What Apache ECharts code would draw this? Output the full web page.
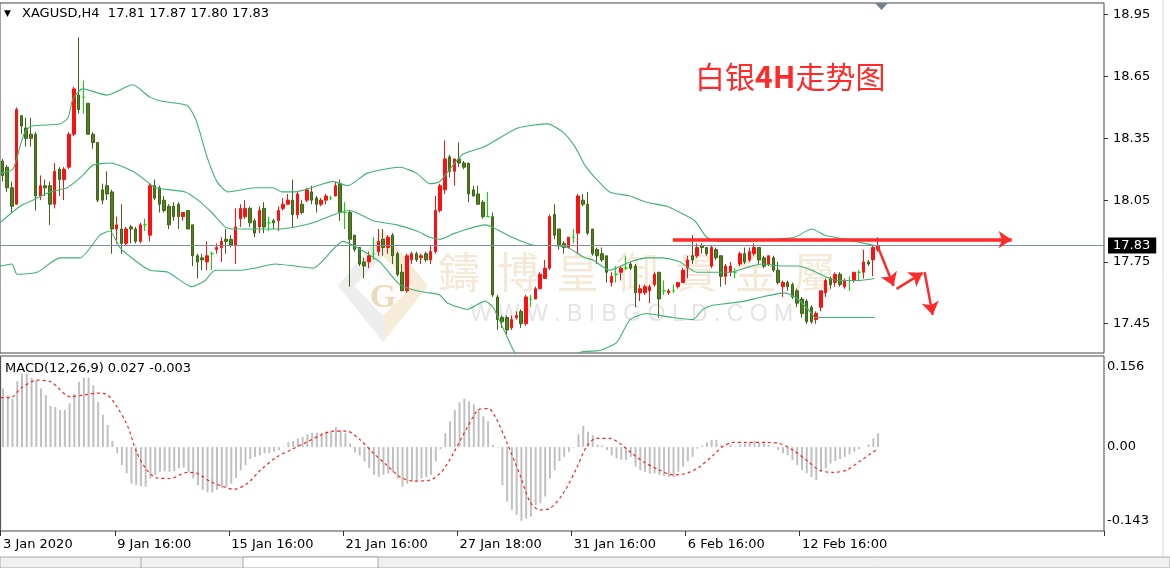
<!DOCTYPE html>
<html>
<head>
<meta charset="utf-8">
<title>XAGUSD H4</title>
<script src="https://cdn.jsdelivr.net/npm/echarts@6.0.0/dist/echarts.min.js"></script>
<style>
html, body { margin: 0; padding: 0; background: #fff; }
#chart { width: 1170px; height: 568px; }
</style>
</head>
<body>
<div id="chart"></div>
<script>
// slots across the chart width (chart shift leaves the right part empty)
var SLOTS = 232;
var labelStep = 24;
var timeLabels = ['3 Jan 2020', '9 Jan 16:00', '15 Jan 16:00', '21 Jan 16:00', '27 Jan 18:00', '31 Jan 16:00', '6 Feb 16:00', '12 Feb 16:00'];
var priceTicks = [17.45, 17.75, 18.05, 18.35, 18.65, 18.95];
var macdTicks = [-0.143, 0, 0.156];
var lastPrice = 17.83;

// [open, close, low, high]
var candles = [
  [18.24,18.17,18.14,18.25],[18.21,18.11,18.09,18.22],[18.11,18.02,17.99,18.14],[18.03,18.49,18.03,18.50],[18.46,18.41,18.37,18.46],
  [18.40,18.35,18.31,18.45],[18.37,18.35,18.31,18.45],[18.37,18.07,18.00,18.38],[18.07,18.12,18.05,18.17],[18.12,18.11,18.07,18.15],
  [18.12,18.03,17.93,18.14],[18.03,18.19,18.01,18.23],[18.20,18.15,18.07,18.21],[18.15,18.20,18.05,18.21],[18.21,18.37,18.20,18.38],
  [18.37,18.59,18.36,18.60],[18.56,18.49,18.47,18.84],[18.55,18.55,18.47,18.63],[18.52,18.37,18.37,18.52],[18.37,18.33,18.30,18.38],
  [18.33,18.05,18.04,18.33],[18.10,18.05,18.03,18.13],[18.12,18.08,18.05,18.19],[18.09,17.91,17.79,18.10],[17.91,17.93,17.84,17.97],
  [17.91,17.84,17.79,18.03],[17.84,17.91,17.83,17.92],[17.92,17.91,17.84,17.93],[17.91,17.85,17.84,17.92],[17.85,17.93,17.84,17.94],
  [17.93,17.93,17.90,17.96],[17.88,18.12,17.85,18.13],[18.12,18.06,18.05,18.15],[18.11,18.03,17.99,18.12],[18.05,18.00,17.99,18.07],
  [18.02,17.93,17.91,18.03],[18.02,17.97,17.95,18.04],[18.03,17.97,17.91,18.04],[17.97,17.99,17.95,17.99],[18.00,17.91,17.91,18.00],
  [17.93,17.78,17.73,17.93],[17.78,17.75,17.67,17.79],[17.77,17.76,17.71,17.79],[17.75,17.78,17.71,17.85],[17.79,17.79,17.71,17.80],
  [17.81,17.82,17.79,17.84],[17.82,17.85,17.75,17.87],[17.86,17.85,17.79,17.91],[17.86,17.83,17.82,17.88],[17.83,17.92,17.74,18.01],
  [17.96,18.01,17.92,18.03],[17.97,18.01,17.96,18.05],[18.01,17.94,17.92,18.02],[17.95,17.89,17.87,17.96],[17.92,18.00,17.89,18.02],
  [18.01,17.92,17.89,18.04],[17.94,17.94,17.90,17.97],[17.95,17.94,17.91,17.96],[17.95,18.00,17.90,18.02],[18.01,18.03,18.00,18.06],
  [18.03,18.05,18.03,18.08],[18.05,17.98,17.92,18.15],[17.98,18.08,17.96,18.09],[18.03,17.99,17.98,18.05],[18.05,18.10,18.04,18.11],
  [18.09,18.05,18.03,18.12],[18.06,18.03,17.99,18.07],[18.03,18.05,18.02,18.06],[18.05,18.07,18.03,18.08],[18.06,18.06,18.05,18.07],
  [18.07,18.12,18.07,18.14],[18.13,17.99,17.95,18.15],[17.99,17.99,17.91,18.04],[17.99,17.86,17.63,18.00],[17.88,17.81,17.80,17.88],
  [17.82,17.74,17.73,17.82],[17.75,17.73,17.67,17.77],[17.75,17.78,17.72,17.80],[17.79,17.79,17.76,17.87],[17.80,17.85,17.78,17.91],
  [17.86,17.82,17.78,17.91],[17.82,17.87,17.79,17.88],[17.88,17.78,17.74,17.89],[17.79,17.69,17.68,17.80],[17.70,17.61,17.61,17.74],
  [17.61,17.78,17.60,17.79],[17.76,17.79,17.74,17.80],[17.79,17.76,17.75,17.80],[17.77,17.78,17.74,17.79],[17.79,17.76,17.75,17.80],
  [17.76,17.80,17.74,17.83],[17.80,18.00,17.79,18.07],[18.00,18.12,17.99,18.13],[18.10,18.25,18.08,18.34],[18.26,18.19,18.16,18.27],
  [18.19,18.25,18.12,18.25],[18.25,18.23,18.21,18.33],[18.23,18.21,18.20,18.24],[18.23,18.08,18.04,18.23],[18.10,18.07,18.07,18.12],
  [18.08,18.03,18.03,18.12],[18.04,17.97,17.96,18.05],[17.97,17.97,17.97,18.09],[17.97,17.59,17.58,17.99],[17.58,17.47,17.42,17.59],
  [17.48,17.46,17.43,17.49],[17.48,17.42,17.40,17.49],[17.43,17.47,17.42,17.49],[17.48,17.49,17.47,17.51],[17.51,17.45,17.43,17.52],
  [17.45,17.58,17.44,17.59],[17.57,17.57,17.53,17.59],[17.57,17.62,17.57,17.63],[17.62,17.69,17.62,17.70],[17.67,17.72,17.67,17.76],
  [17.72,17.97,17.71,17.98],[17.98,17.88,17.86,18.03],[17.91,17.83,17.81,17.91],[17.84,17.82,17.79,17.85],[17.82,17.87,17.82,17.87],
  [17.87,17.87,17.84,17.91],[17.89,18.07,17.79,18.08],[18.05,18.03,18.02,18.08],[18.03,17.89,17.88,18.09],[17.91,17.79,17.78,17.91],
  [17.81,17.78,17.74,17.82],[17.79,17.76,17.75,17.82],[17.78,17.70,17.65,17.78],[17.65,17.68,17.63,17.70],[17.69,17.69,17.65,17.73],
  [17.70,17.72,17.66,17.73],[17.72,17.72,17.71,17.78],[17.74,17.72,17.71,17.75],[17.73,17.60,17.53,17.74],[17.60,17.62,17.56,17.64],
  [17.60,17.63,17.59,17.64],[17.61,17.63,17.55,17.64],[17.64,17.69,17.63,17.70],[17.70,17.57,17.48,17.70],[17.61,17.61,17.59,17.66],
  [17.60,17.61,17.59,17.62],[17.61,17.61,17.60,17.64],[17.63,17.65,17.62,17.65],[17.65,17.71,17.65,17.72],[17.72,17.76,17.67,17.78],
  [17.78,17.76,17.74,17.88],[17.78,17.82,17.77,17.84],[17.83,17.82,17.79,17.84],[17.82,17.79,17.78,17.82],[17.73,17.82,17.72,17.83],
  [17.81,17.77,17.76,17.82],[17.78,17.68,17.63,17.78],[17.68,17.73,17.64,17.74],[17.70,17.73,17.68,17.75],[17.70,17.70,17.67,17.72],
  [17.74,17.79,17.73,17.80],[17.79,17.75,17.74,17.82],[17.76,17.80,17.75,17.82],[17.79,17.82,17.78,17.84],[17.82,17.76,17.74,17.82],
  [17.77,17.73,17.72,17.78],[17.74,17.78,17.73,17.78],[17.77,17.71,17.70,17.78],[17.71,17.65,17.64,17.75],[17.63,17.65,17.58,17.66],
  [17.65,17.63,17.61,17.66],[17.64,17.58,17.57,17.65],[17.61,17.55,17.53,17.62],[17.57,17.50,17.48,17.58],[17.56,17.46,17.45,17.57],
  [17.53,17.46,17.45,17.54],[17.47,17.50,17.45,17.51],[17.53,17.61,17.51,17.61],[17.60,17.66,17.58,17.67],[17.67,17.64,17.62,17.68],
  [17.65,17.69,17.63,17.70],[17.69,17.64,17.63,17.70],[17.63,17.66,17.62,17.67],[17.66,17.66,17.61,17.68],[17.66,17.70,17.65,17.70],
  [17.70,17.70,17.66,17.71],[17.70,17.75,17.67,17.81],[17.75,17.74,17.73,17.76],[17.76,17.82,17.68,17.83],[17.81,17.83,17.80,17.87]
];

// Bollinger bands, read as [bar, price] vertices
var bbUpper = [[-0.5,18.18],[2.2,18.20],[3.7,18.31],[4.7,18.38],[6.2,18.41],[12.1,18.42],[13.8,18.45],[14.8,18.54],[16.9,18.59],[22,18.56],
  [27.4,18.61],[31,18.55],[33.5,18.53],[38.8,18.51],[40.5,18.45],[41.5,18.38],[43,18.26],[45.1,18.14],[47.4,18.09],[53.1,18.11],
  [56.9,18.11],[58.7,18.09],[61.5,18.09],[69.5,18.14],[72.6,18.12],[76.6,18.18],[83.5,18.21],[87.1,18.18],[89.8,18.13],[91.9,18.14],
  [96.6,18.27],[101.4,18.31],[108.3,18.40],[114.6,18.42],[117.8,18.38],[120.3,18.31],[122.4,18.22],[123.4,18.19],[124.9,18.15],[127.6,18.09],
  [131.9,18.07],[135.4,18.04],[139.6,18.02],[142.4,17.99],[145.5,17.95],[148,17.87],[150.8,17.85],[156,17.85],[162.3,17.86],[166.5,17.87],
  [170.1,17.91],[172.8,17.88],[174.9,17.87],[181.2,17.84],[183.3,17.83]];
var bbMiddle = [[-0.5,17.94],[3.7,18.02],[6.4,18.05],[10,18.09],[13.6,18.11],[16.9,18.17],[19,18.22],[22.6,18.23],[27.4,18.19],[31,18.13],
  [32,18.11],[38.4,18.09],[41.1,18.05],[44,17.99],[46.8,17.92],[48.2,17.91],[57.9,17.91],[61.5,17.92],[65.3,17.94],[70.9,17.99],
  [73,18.00],[77.9,17.95],[82.9,17.93],[87.1,17.90],[89.8,17.87],[91.9,17.86],[95.1,17.89],[101.4,17.93],[102.9,17.92],[107.1,17.87],
  [111.9,17.83],[115.5,17.83],[118.8,17.82],[122.4,17.77],[124.1,17.76],[127.6,17.71],[131.9,17.75],[135.4,17.77],[138.8,17.77],[142.4,17.75],
  [145.9,17.70],[149.3,17.70],[152.9,17.70],[156,17.72],[159.6,17.74],[163.8,17.73],[167.1,17.73],[170.1,17.71],[172.8,17.68],[175.5,17.66],
  [179.7,17.66],[183.3,17.67]];
var bbLower = [[-0.5,17.73],[2,17.74],[3.1,17.69],[7.3,17.70],[12.1,17.77],[16.3,17.77],[20.5,17.88],[22.6,17.90],[24.7,17.82],[28.3,17.75],
  [31,17.71],[34.8,17.70],[39.8,17.63],[42.6,17.66],[44.7,17.71],[50.3,17.71],[53.1,17.72],[57.3,17.74],[61.5,17.73],[65.3,17.72],
  [71.6,17.85],[74.5,17.82],[79.3,17.75],[83.5,17.64],[87.1,17.61],[89.8,17.60],[91.9,17.59],[93.6,17.55],[97.8,17.52],[101.4,17.56],
  [103.1,17.53],[105.6,17.41],[107.7,17.31],[112,17.20],[117,17.19],[121.3,17.31],[125.5,17.32],[129.1,17.36],[131.9,17.47],[135.4,17.50],
  [138.2,17.49],[140.9,17.48],[145.1,17.47],[147.2,17.52],[149.3,17.54],[152.9,17.55],[156,17.56],[159.6,17.58],[164.4,17.60],[167.1,17.57],
  [170.1,17.50],[170.7,17.48],[183.3,17.48]];

// MACD(12,26,9) main histogram, one value per bar
var macdHist = [
  0.114,0.101,0.094,0.128,0.143,0.143,0.135,0.130,0.114,0.101,
  0.080,0.078,0.072,0.072,0.085,0.104,0.127,0.135,0.135,0.120,
  0.088,0.063,0.043,0.012,-0.012,-0.035,-0.051,-0.071,-0.074,-0.076,
  -0.077,-0.061,-0.054,-0.048,-0.047,-0.048,-0.047,-0.041,-0.040,-0.048,
  -0.061,-0.074,-0.083,-0.088,-0.088,-0.083,-0.080,-0.077,-0.071,-0.060,
  -0.045,-0.035,-0.023,-0.019,-0.016,-0.012,-0.012,-0.009,-0.006,0.001,
  0.009,0.012,0.017,0.020,0.025,0.028,0.028,0.028,0.030,0.031,
  0.039,0.033,0.027,0.007,-0.010,-0.016,-0.028,-0.041,-0.054,-0.058,
  -0.054,-0.051,-0.049,-0.061,-0.077,-0.071,-0.067,-0.066,-0.061,-0.058,
  -0.054,-0.028,-0.004,0.027,0.050,0.072,0.087,0.094,0.089,0.083,
  0.074,0.060,0.050,0.004,-0.001,-0.074,-0.106,-0.122,-0.132,-0.143,
  -0.139,-0.135,-0.113,-0.109,-0.096,-0.061,-0.045,-0.027,-0.019,-0.009,
  -0.001,0.025,0.041,0.030,0.023,0.005,0.003,-0.006,-0.016,-0.022,
  -0.025,-0.025,-0.019,-0.038,-0.045,-0.048,-0.051,-0.051,-0.054,-0.056,
  -0.058,-0.058,-0.048,-0.038,-0.028,-0.019,-0.003,0.003,0.009,0.014,
  0.014,0.004,0.001,0.005,0.001,0.005,0.007,0.009,0.012,0.009,
  0.009,0.005,0.001,-0.006,-0.012,-0.016,-0.025,-0.035,-0.045,-0.051,
  -0.058,-0.064,-0.048,-0.041,-0.032,-0.027,-0.023,-0.019,-0.014,-0.009,
  -0.004,0.000,0.005,0.017,0.027
];
// signal line vertices [bar, value]
var macdSignal = [[-0.5,0.096],[1.6,0.096],[3.7,0.114],[7.2,0.130],[10,0.127],[14.2,0.098],[17,0.101],[19.8,0.105],[21.9,0.102],[23.7,0.082],
  [26.1,0.043],[28.2,-0.012],[30.3,-0.045],[32.4,-0.060],[35.2,-0.061],[38.7,-0.049],[40.8,-0.051],[43.6,-0.067],[46.4,-0.077],[48.5,-0.082],
  [51.3,-0.071],[54.1,-0.045],[57.6,-0.019],[60.4,-0.006],[63.9,0.010],[66.7,0.023],[69.5,0.031],[72.3,0.031],[75.1,0.014],[77.9,-0.012],
  [80.7,-0.035],[83.5,-0.058],[86.3,-0.066],[89.8,-0.064],[92.3,-0.047],[94.7,-0.012],[97.5,0.036],[100.3,0.074],[102.1,0.075],[103.5,0.059],
  [105.9,0.010],[108.7,-0.054],[110.8,-0.106],[112.9,-0.122],[115,-0.119],[117.8,-0.090],[120.6,-0.041],[122.7,0.001],[124.8,0.017],[127.6,0.017],
  [129.7,0.007],[131.8,-0.009],[134.6,-0.028],[138.1,-0.045],[140.9,-0.054],[143.7,-0.051],[146.5,-0.038],[149.3,-0.016],[151.4,0.001],[153.5,0.009],
  [156.3,0.009],[160.5,0.009],[163.3,0.007],[166.1,-0.006],[168.9,-0.025],[171.7,-0.045],[174.5,-0.049],[177.3,-0.045],[180.1,-0.028],[182.9,-0.010],
  [184,-0.003]];

// hand drawn annotations, [bar, price]
var resistance = [[140.9, 17.858], [212.1, 17.858]];
var arrowSegs = [
  [[183.9, 17.828], [187.3, 17.633]],
  [[187.9, 17.619], [193.4, 17.697]],
  [[193.8, 17.701], [195.5, 17.493]]
];

var cats = [];
for (var i = 0; i < SLOTS; i++) {
  var k = i / labelStep;
  cats.push(i % labelStep === 0 && k < timeLabels.length ? timeLabels[k] : '');
}
function showLabel(idx, val) { return val !== ''; }

var FONT = 'DejaVu Sans';
var annLines = [[{coord: resistance[0], lineStyle: {width: 3.5}}, {coord: resistance[1]}]];
arrowSegs.forEach(function (s) {
  annLines.push([{coord: s[0], lineStyle: {width: 2.5}}, {coord: s[1]}]);
});

var wmChars = ['鑄', '博', '皇', '御', '貴', '金', '屬'];
var graphics = [
  // bibgold logo watermark
  {type: 'polygon', z: 0, shape: {points: [[383, 230], [338, 286], [383, 342]]}, style: {fill: 'rgba(222,222,222,0.55)'}},
  {type: 'polygon', z: 0, shape: {points: [[383, 230], [428, 286], [383, 342]]}, style: {fill: 'rgba(240,220,185,0.55)'}},
  {type: 'polygon', z: 0, shape: {points: [[383, 256], [412, 286], [383, 316], [354, 286]]}, style: {fill: 'rgba(255,255,255,0.85)'}},
  {type: 'text', z: 0, x: 383, y: 298, style: {text: 'G', font: 'bold 34px "Liberation Serif"', fill: 'rgba(225,195,150,0.6)', align: 'center', verticalAlign: 'middle'}},
  {type: 'text', z: 0, x: 470, y: 315, style: {text: 'W W W . B I B G O L D . C O M', font: '23px "Liberation Sans"', fill: 'rgba(205,205,205,0.55)', verticalAlign: 'middle'}},
  // header texts
  {type: 'text', z: 100, x: 4, y: 14, style: {text: '▼', font: '9px "DejaVu Sans"', fill: '#000', verticalAlign: 'middle'}},
  {type: 'text', z: 100, x: 22, y: 14, style: {text: 'XAGUSD,H4  17.81 17.87 17.80 17.83', font: '13px "DejaVu Sans"', fill: '#000', verticalAlign: 'middle'}},
  {type: 'text', z: 100, x: 5, y: 369, style: {text: 'MACD(12,26,9) 0.027 -0.003', font: '13px "DejaVu Sans"', fill: '#000', verticalAlign: 'middle'}},
  {type: 'text', z: 100, x: 695, y: 77, style: {
    text: '{a|白银}{b|4H}{a|走势图}', verticalAlign: 'middle',
    rich: {
      a: {fontFamily: 'Noto Sans CJK SC', fontSize: 30, fill: '#ff2a2a'},
      b: {fontFamily: 'Noto Sans CJK SC', fontSize: 30, fontWeight: 'bold', fill: '#ff2a2a'}
    }}},
  // chart shift marker
  {type: 'polygon', z: 100, shape: {points: [[875, 3], [888, 3], [881.5, 10]]}, style: {fill: '#6f8193'}},
  // terminal tab strip
  {type: 'rect', z: 100, shape: {x: 0, y: 557, width: 1170, height: 11}, style: {fill: '#f0f0f0', stroke: '#a8a8a8', lineWidth: 1}},
  {type: 'rect', z: 100, shape: {x: 243, y: 557, width: 135, height: 11}, style: {fill: '#fff', stroke: '#a8a8a8', lineWidth: 1}},
  {type: 'line', z: 100, shape: {x1: 141, y1: 557, x2: 141, y2: 568}, style: {stroke: '#a8a8a8', lineWidth: 1}},
  {type: 'line', z: 100, shape: {x1: 1163, y1: 0, x2: 1163, y2: 557}, style: {stroke: '#d4d4d4', lineWidth: 1}}
];
wmChars.forEach(function (c, j) {
  graphics.push({type: 'text', z: 0, x: 459 + j * 59.3, y: 272,
    style: {text: c, font: '42px "Noto Sans CJK TC"', fill: 'rgba(232,205,165,0.45)', align: 'center', verticalAlign: 'middle'}});
});

var chart = echarts.init(document.getElementById('chart'));
var option = {
  animation: false,
  backgroundColor: '#fff',
  textStyle: {fontFamily: FONT},
  grid: [
    {left: 0, top: 3, width: 1104, height: 350, show: true, borderColor: '#444', borderWidth: 1},
    {left: 0, top: 356, width: 1104, height: 175, show: true, borderColor: '#444', borderWidth: 1}
  ],
  xAxis: [
    {type: 'category', gridIndex: 0, data: cats, show: false, axisLine: {onZero: false}},
    {type: 'value', gridIndex: 0, min: -0.5, max: SLOTS - 0.5, show: false, axisLine: {onZero: false}},
    {type: 'category', gridIndex: 1, data: cats, position: 'bottom',
      axisLine: {show: false, onZero: false},
      axisTick: {show: true, interval: showLabel, length: 5, lineStyle: {color: '#333'}},
      axisLabel: {interval: showLabel, align: 'left', margin: 7, color: '#000', fontSize: 13, fontFamily: FONT}},
    {type: 'value', gridIndex: 1, min: -0.5, max: SLOTS - 0.5, show: false, axisLine: {onZero: false}}
  ],
  yAxis: [
    {type: 'value', gridIndex: 0, position: 'right', min: 17.308, max: 19.007,
      splitLine: {show: false}, axisLine: {show: false, onZero: false},
      axisTick: {show: true, length: 4, customValues: priceTicks, lineStyle: {color: '#333'}},
      axisLabel: {customValues: priceTicks, margin: 9, color: '#000', fontSize: 13, fontFamily: FONT,
        formatter: function (v) { return v.toFixed(2); }}},
    {type: 'value', gridIndex: 1, position: 'right', min: -0.163, max: 0.177,
      splitLine: {show: false}, axisLine: {show: false, onZero: false}, axisTick: {show: false},
      axisLabel: {customValues: macdTicks, margin: 3, color: '#000', fontSize: 13, fontFamily: FONT,
        formatter: function (v) { return v === 0 ? '0.00' : v.toFixed(3); }}}
  ],
  series: [
    {type: 'candlestick', xAxisIndex: 0, yAxisIndex: 0, data: candles, barWidth: 3,
      itemStyle: {color: '#ff1010', color0: '#567d1f', borderColor: '#ff1010', borderColor0: '#3b6615',
        borderColorDoji: '#00dd00', borderWidth: 1},
      markLine: {silent: true, animation: false, symbol: ['none', 'none'],
        lineStyle: {color: '#7d8ea3', width: 1, type: 'solid'},
        label: {show: true, position: 'end', distance: 4, formatter: lastPrice.toFixed(2), color: '#fff',
          backgroundColor: '#000', padding: [2, 6, 1, 5], fontFamily: FONT, fontSize: 13},
        data: [{yAxis: lastPrice}]}},
    {type: 'line', xAxisIndex: 1, yAxisIndex: 0, data: bbUpper, symbol: 'none', smooth: 0.2,
      lineStyle: {color: '#3cb371', width: 1.1}, z: 3,
      markLine: {silent: true, animation: false, symbol: ['none', 'arrow'], symbolSize: 13,
        label: {show: false}, lineStyle: {color: '#ff2a2a', type: 'solid'}, data: annLines}},
    {type: 'line', xAxisIndex: 1, yAxisIndex: 0, data: bbMiddle, symbol: 'none', smooth: 0.2,
      lineStyle: {color: '#3cb371', width: 1.1}, z: 3},
    {type: 'line', xAxisIndex: 1, yAxisIndex: 0, data: bbLower, symbol: 'none', smooth: 0.2,
      lineStyle: {color: '#3cb371', width: 1.1}, z: 3},
    {type: 'bar', xAxisIndex: 2, yAxisIndex: 1, data: macdHist, barWidth: 2,
      itemStyle: {color: '#c0c0c0'}},
    {type: 'line', xAxisIndex: 3, yAxisIndex: 1, data: macdSignal, symbol: 'none', smooth: 0.3,
      lineStyle: {color: '#ff2020', width: 1.2, type: [3, 3]}, z: 3}
  ],
  graphic: graphics
};
chart.setOption(option);
</script>
</body>
</html>
